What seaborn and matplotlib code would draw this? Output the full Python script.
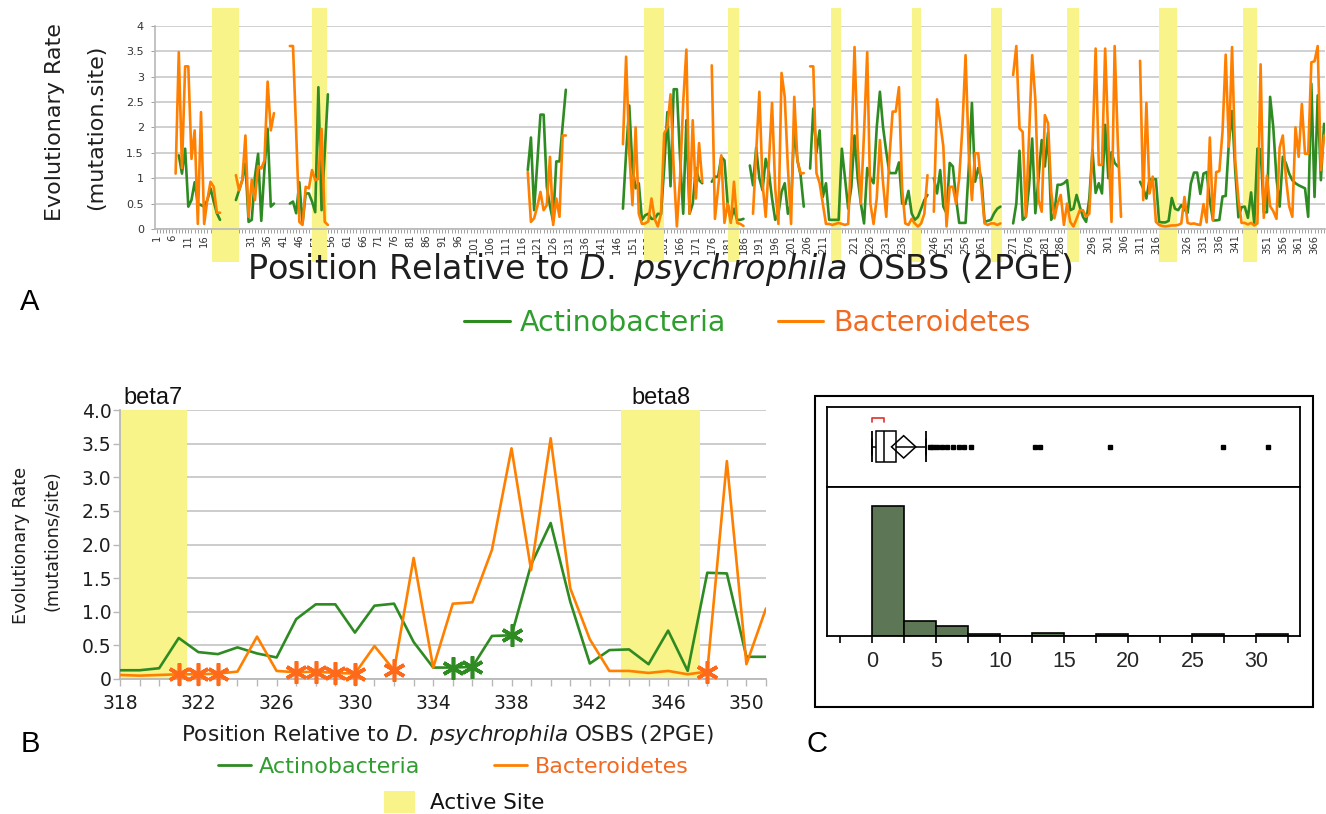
import numpy as np
import pandas as pd
import matplotlib
matplotlib.use("Agg")
import matplotlib.pyplot as plt
import seaborn as sns
from matplotlib.lines import Line2D
from matplotlib.patches import Patch, Rectangle, Polygon

# ------------------------------------------------------------------
# DATA
# ------------------------------------------------------------------
group_names = ["Actinobacteria", "Bacteroidetes"]

# Actinobacteria rates, runs of consecutive positions (start position, values)
act_008 = [1.45, 1.09, 1.58, 0.44, 0.57, 0.92, 0.5, 0.47, 0.44, 0.57, 0.8, 0.54, 0.31, 0.18]
act_026 = [0.57, 0.76, 0.96, 1.29, 0.14, 0.18, 1.03, 1.48, 0.16, 1.19, 1.97, 0.44, 0.5]
act_043 = [0.5, 0.54, 0.31, 0.92, 0.11, 0.7, 0.7, 0.54, 0.33, 2.79, 0.37, 1.5, 2.65]
act_118 = [1.16, 1.8, 0.37, 1.3, 2.25, 2.25, 0.83, 0.45, 0.15, 1.33, 1.33, 2.04, 2.74]
act_148 = [0.4, 1.5, 2.43, 1.2, 0.8, 0.9, 0.18, 0.27, 0.3, 0.2, 0.2, 0.3, 0.29, 1.2, 2.3,
           0.84, 2.75, 2.75, 1.4, 0.3, 2.14, 0.3, 0.5, 1.2, 0.96, 0.9]
act_176 = [0.93, 1.03, 1.03, 1.42, 1.35, 0.5, 0.18, 0.4, 0.18, 0.18, 0.2]
act_188 = [1.25, 0.86, 1.6, 1.0, 0.76, 1.38, 1.12, 0.6, 0.18, 0.3, 0.73, 0.9, 0.3, 0.5,
           2.0, 1.35, 1.06, 0.44]
act_207 = [1.19, 2.37, 1.5, 1.94, 0.63, 0.9, 0.18, 0.18, 0.18, 0.18, 1.58, 1.0, 0.4, 0.83,
           1.84, 1.0, 0.5, 0.11, 1.2, 1.0, 0.9, 2.0, 2.7, 2.0, 1.52, 1.1, 1.1, 1.1, 1.31,
           0.5, 0.49, 0.75, 0.31, 0.18, 0.24, 0.4, 0.57, 0.67]
act_246 = [1.0, 0.7, 1.16, 0.44, 0.31, 1.3, 1.23, 0.6, 0.12, 0.12, 0.12, 1.2, 2.48, 0.93,
           1.2, 1.0, 0.14, 0.16, 0.18, 0.31, 0.4, 0.44]
act_271 = [0.11, 0.5, 1.54, 0.18, 0.24, 0.83, 1.78, 0.31, 1.0, 1.75, 1.23, 1.9, 0.18, 0.31,
           0.87, 0.87, 0.9, 0.96, 0.37, 0.4, 0.67, 0.44, 0.24, 0.14, 0.6, 1.55, 0.71, 0.9,
           0.7, 2.05, 1.0, 1.51, 1.3, 1.23]
act_311 = [0.93, 0.8, 0.6, 0.98, 0.98, 0.98, 0.14]
act_318 = [0.13, 0.13, 0.16, 0.61, 0.40, 0.37, 0.47, 0.38, 0.32, 0.89, 1.11, 1.11, 0.69,
           1.09, 1.12, 0.55, 0.17, 0.17, 0.18, 0.64, 0.65, 1.70, 2.32, 1.15, 0.23, 0.43,
           0.44, 0.22, 0.72, 0.12, 1.58, 1.57, 0.33, 0.33]
act_352 = [2.6, 2.0, 1.0, 0.44, 1.42, 1.29, 1.09, 0.96, 0.9, 0.86, 0.83, 0.8, 0.24, 2.86,
           0.63, 2.63, 0.96, 2.07]

# Bacteroidetes rates
bac_007 = [1.09, 3.48, 1.2, 3.2, 3.2, 1.38, 1.94, 0.1, 2.3, 0.1, 0.57, 0.93, 0.83, 0.32, 0.32]
bac_026 = [1.06, 0.76, 0.96, 1.84, 0.24, 0.97, 0.57, 1.24, 1.19, 1.35, 2.9, 1.94, 2.28]
bac_043 = [3.6, 3.6, 1.9, 0.14, 0.08, 0.83, 0.8, 1.16, 0.96, 0.99, 1.97, 0.14, 0.08]
bac_118 = [1.12, 0.14, 0.21, 0.44, 0.73, 0.37, 0.47, 1.42, 0.08, 0.6, 0.24, 1.84, 1.84]
bac_148 = [1.67, 3.39, 1.5, 0.47, 2.0, 0.3, 0.1, 0.11, 0.15, 0.6, 0.2, 0.05, 0.3, 1.88, 2.0,
           2.65, 1.2, 0.05, 1.0, 2.5, 3.53, 0.3, 2.14, 0.6, 1.69, 0.93]
bac_176 = [3.22, 0.2, 0.8, 1.45, 0.12, 0.5, 0.12, 0.93, 0.12, 0.1, 0.06]
bac_189 = [0.3, 1.5, 2.7, 0.9, 0.24, 1.3, 2.48, 0.8, 0.1, 3.07, 2.6, 1.2, 0.1, 2.6, 1.35,
           1.09, 1.1]
bac_207 = [3.2, 3.2, 1.1, 0.9, 0.5, 0.1, 0.1, 0.08, 0.1, 0.12, 0.1, 0.08, 0.1, 1.6, 3.58,
           1.6, 0.5, 1.9, 3.48, 0.5, 0.1, 0.6, 1.75, 0.9, 0.24, 1.4, 2.31, 2.31, 2.79, 0.8,
           0.11, 0.08, 0.2, 0.11, 0.05, 0.11, 0.3, 1.06]
bac_246 = [0.34, 2.55, 2.1, 1.62, 0.05, 0.83, 0.83, 0.5, 1.0, 2.0, 3.42, 1.49, 0.57, 1.49,
           1.49, 0.8, 0.11, 0.08, 0.11, 0.11, 0.08, 0.11]
bac_271 = [3.03, 3.6, 1.98, 1.91, 0.24, 1.8, 3.42, 2.54, 0.57, 0.34, 2.24, 2.08, 0.73, 0.21,
           0.5, 0.67, 0.08, 0.5, 0.14, 0.05, 0.2, 0.37, 0.37, 0.24, 0.3, 1.55, 3.55, 1.26,
           1.26, 3.55, 1.75, 0.14, 3.6, 1.69, 0.24]
bac_311 = [3.31, 0.57, 2.48, 0.7, 1.03, 0.14, 0.08]
bac_318 = [0.06, 0.05, 0.06, 0.07, 0.07, 0.08, 0.11, 0.63, 0.12, 0.10, 0.11, 0.09, 0.08,
           0.49, 0.13, 1.80, 0.17, 1.12, 1.14, 1.92, 3.43, 1.62, 3.58, 1.35, 0.59, 0.12,
           0.12, 0.09, 0.12, 0.07, 0.11, 3.24, 0.22, 1.05]
bac_352 = [0.45, 0.35, 0.2, 1.6, 1.84, 1.0, 0.45, 0.24, 2.0, 1.42, 2.46, 1.48, 1.48, 3.28,
           3.3, 3.6, 1.16, 1.84]

act_runs = [(8, act_008), (26, act_026), (43, act_043), (118, act_118), (148, act_148),
            (176, act_176), (188, act_188), (207, act_207), (246, act_246),
            (271, act_271), (311, act_311), (318, act_318), (352, act_352)]
bac_runs = [(7, bac_007), (26, bac_026), (43, bac_043), (118, bac_118), (148, bac_148),
            (176, bac_176), (189, bac_189), (207, bac_207), (246, bac_246),
            (271, bac_271), (311, bac_311), (318, bac_318), (352, bac_352)]

# active-site spans (position ranges)
active_A = [(18.4, 26.9), (49.9, 54.6), (154.6, 161.0), (181.0, 184.6), (213.6, 216.8),
            (239.2, 242.0), (264.0, 267.6), (288.0, 291.9), (317.0, 322.5), (343.6, 348.0)]
active_B = [(317.0, 321.4), (343.6, 347.65)]
active_B_names = ["beta7", "beta8"]

# asterisk-marked sites in panel B
star_bac = [321, 322, 323, 327, 328, 329, 330, 332, 348]
star_act = [335, 336, 338]

# ticks / labels
A_yticks = [0, 0.5, 1, 1.5, 2, 2.5, 3, 3.5, 4]
A_yticklabels = ["0", "0.5", "1", "1.5", "2", "2.5", "3", "3.5", "4"]
B_yticks = [0, 0.5, 1.0, 1.5, 2.0, 2.5, 3.0, 3.5, 4.0]
B_yticklabels = ["0", "0.5", "1.0", "1.5", "2.0", "2.5", "3.0", "3.5", "4.0"]

# panel C: distribution of values (histogram + outlier box plot)
ratio_values = [
    0.0, 0.02, 0.04, 0.05, 0.06, 0.08, 0.1, 0.11, 0.12, 0.13, 0.15, 0.16, 0.18, 0.2, 0.21,
    0.22, 0.24, 0.25, 0.27, 0.28, 0.3, 0.31, 0.32, 0.33, 0.34,
    0.37, 0.4, 0.42, 0.45, 0.48, 0.5, 0.53, 0.56, 0.6, 0.63, 0.66, 0.7, 0.72, 0.75, 0.78,
    0.8, 0.83, 0.86, 0.88, 0.9, 0.92, 0.94, 0.95, 0.96, 0.97,
    1.0, 1.04, 1.08, 1.12, 1.16, 1.2, 1.24, 1.28, 1.32, 1.36, 1.4, 1.44, 1.48, 1.52, 1.56,
    1.6, 1.64, 1.68, 1.72, 1.76, 1.8, 1.84, 1.87, 1.9, 1.92,
    2.05, 2.2, 2.4,
    2.6, 2.8, 3.0, 3.3, 3.6, 3.9, 4.2, 4.5, 4.8,
    5.1, 5.5, 5.9, 6.3, 6.8, 7.2,
    7.7, 12.7, 13.1, 18.6, 27.4, 30.9]
C_major = [0, 5, 10, 15, 20, 25, 30]
C_minor = [-2.5, 2.5, 7.5, 12.5, 17.5, 22.5, 27.5, 32.5]
C_bin_edges = [0, 2.5, 5, 7.5, 10, 12.5, 15, 17.5, 20, 22.5, 25, 27.5, 30, 32.5]

# ------------------------------------------------------------------
GREEN = "#2e8b22"
ORANGE = "#ff8000"
GREEN_TXT = "#2f9e2f"
ORANGE_TXT = "#f26a22"
YELLOW = "#f8f48a"
GRID = "#c8c8c8"
SPINE = "#b8b8b8"
HISTC = "#5c7656"
TXT = "#1e1e1e"

sns.set_theme(style="white")
plt.rcParams['font.family'] = ['DejaVu Sans']
plt.rcParams['mathtext.fontset'] = 'dejavusans'


def runs_frame(runs, name):
    rows = []
    for start, vals in runs:
        for i, v in enumerate(vals):
            rows.append((start + i, v))
    df = pd.DataFrame(rows, columns=["pos", "rate"]).sort_values("pos").reset_index(drop=True)
    df["segment"] = (df["pos"].diff() != 1).cumsum()
    df["group"] = name
    return df


dfA = pd.concat([runs_frame(act_runs, group_names[0]),
                 runs_frame(bac_runs, group_names[1])], ignore_index=True)
palette = {group_names[0]: GREEN, group_names[1]: ORANGE}

W, H = 1326, 814
fig = plt.figure(figsize=(W / 100, H / 100), dpi=100)

# ------------------------------ Panel A ---------------------------
axA = fig.add_axes([155 / W, 1 - 229 / H, 1170 / W, 203.3 / H])
for a, b in active_A:
    axA.axvspan(a, b, ymin=-0.162, ymax=1.087, color=YELLOW, lw=0, zorder=1, clip_on=False)
sns.lineplot(data=dfA, x="pos", y="rate", hue="group", units="segment", estimator=None,
             palette=palette, linewidth=1.9, legend=False, ax=axA, zorder=3)
axA.set_xlim(0.5, 369.3)
axA.set_ylim(0, 4)
axA.set_xlabel("")
axA.set_ylabel("")
axA.set_yticks(A_yticks)
axA.set_yticklabels(A_yticklabels)
axA.set_xticks(np.arange(1, 370, 5))
axA.set_xticklabels([str(v) for v in np.arange(1, 370, 5)])
axA.set_xticks(np.arange(1, 370, 1), minor=True)
axA.yaxis.grid(True, color=GRID, lw=1.2)
axA.set_axisbelow(True)
for s in ["top", "right"]:
    axA.spines[s].set_visible(False)
for s in ["left", "bottom"]:
    axA.spines[s].set_color(SPINE)
    axA.spines[s].set_linewidth(1.2)
axA.tick_params(axis="x", which="both", bottom=True, length=3, width=0.7, color="#a0a0a0",
                labelsize=7.2, labelcolor="#333333", pad=1, labelrotation=90)
axA.tick_params(axis="y", left=True, length=3, width=0.7, color="#a0a0a0",
                labelsize=8, labelcolor="#333333", pad=5)

fig.text(55.5 / W, 1 - 122 / H, "Evolutionary Rate", rotation=90, ha="center", va="center",
         fontsize=16, color=TXT)
fig.text(96 / W, 1 - 127 / H, "(mutation.site)", rotation=90, ha="center", va="center",
         fontsize=16, color=TXT)
fig.text(660 / W, 1 - 270 / H,
         r"Position Relative to $\mathit{D.\ psychrophila}$ OSBS (2PGE)",
         ha="center", va="center", fontsize=24, color=TXT)

legA = fig.legend(handles=[Line2D([], [], color=GREEN, lw=2.2), Line2D([], [], color=ORANGE, lw=2.2)],
                  labels=group_names, loc="center", bbox_to_anchor=(747.5 / W, 1 - 323 / H),
                  ncol=2, frameon=False, fontsize=20.5, handlelength=1.6, handletextpad=0.35,
                  columnspacing=1.8, borderaxespad=0, borderpad=0)
for t, c in zip(legA.get_texts(), [GREEN_TXT, ORANGE_TXT]):
    t.set_color(c)

# ------------------------------ Panel B ---------------------------
dfB = dfA[(dfA["pos"] >= 318) & (dfA["pos"] <= 351)]
axB = fig.add_axes([120 / W, 1 - 679 / H, 646 / W, 269 / H])
for a, b in active_B:
    axB.axvspan(a, b, color=YELLOW, lw=0, zorder=1)
sns.lineplot(data=dfB, x="pos", y="rate", hue="group", estimator=None, palette=palette,
             linewidth=1.9, legend=False, ax=axB, zorder=3)
for name, sites, col in [(group_names[1], star_bac, "#ff6a1a"), (group_names[0], star_act, GREEN)]:
    sub = dfB[(dfB["group"] == name) & (dfB["pos"].isin(sites))]
    axB.plot(sub["pos"], sub["rate"], linestyle="none", marker=(6, 2, 0), ms=16, mew=2.6,
             color=col, zorder=4, clip_on=False)
axB.set_xlim(318, 351)
axB.set_ylim(0, 4)
axB.set_xlabel("")
axB.set_ylabel("")
axB.set_yticks(B_yticks)
axB.set_yticklabels(B_yticklabels)
axB.set_xticks(np.arange(318, 351, 4))
axB.set_xticks(np.arange(318, 352, 1), minor=True)
axB.yaxis.grid(True, color=GRID, lw=1.3)
axB.set_axisbelow(True)
for s in ["top", "right"]:
    axB.spines[s].set_visible(False)
for s in ["left", "bottom"]:
    axB.spines[s].set_color(SPINE)
    axB.spines[s].set_linewidth(1.3)
axB.tick_params(axis="x", which="both", bottom=True, length=5, width=1.0, color=SPINE,
                labelsize=13.5, labelcolor=TXT, pad=6)
axB.tick_params(axis="y", left=True, length=5, width=1.0, color=SPINE,
                labelsize=13.5, labelcolor=TXT, pad=1)
for (a, b), name in zip(active_B, active_B_names):
    cx = (max(a, 318) + b) / 2
    axB.annotate(name, xy=(cx, 4.0), xytext=(0, 4), textcoords="offset points",
                 ha="center", va="baseline", fontsize=17, family="Liberation Sans",
                 color="#111111", annotation_clip=False)

fig.text(21.5 / W, 1 - 545 / H, "Evolutionary Rate", rotation=90, ha="center", va="center",
         fontsize=12.7, color=TXT)
fig.text(53 / W, 1 - 541 / H, "(mutations/site)", rotation=90, ha="center", va="center",
         fontsize=12.7, color=TXT)
fig.text(447.5 / W, 1 - 735 / H,
         r"Position Relative to $\mathit{D.\ psychrophila}$ OSBS (2PGE)",
         ha="center", va="center", fontsize=15.5, color=TXT)

legB = fig.legend(handles=[Line2D([], [], color=GREEN, lw=2), Line2D([], [], color=ORANGE, lw=2)],
                  labels=group_names, loc="center", bbox_to_anchor=(453.5 / W, 1 - 767 / H),
                  ncol=2, frameon=False, fontsize=16, handlelength=1.5, handletextpad=0.35,
                  columnspacing=3.3, borderaxespad=0, borderpad=0)
for t, c in zip(legB.get_texts(), [GREEN_TXT, ORANGE_TXT]):
    t.set_color(c)
legS = fig.legend(handles=[Patch(facecolor=YELLOW, edgecolor="none")], labels=["Active Site"],
                  loc="center", bbox_to_anchor=(464.5 / W, 1 - 802 / H), frameon=False,
                  fontsize=15.5, handlelength=1.45, handleheight=1.2, handletextpad=0.7,
                  borderaxespad=0, borderpad=0)
for t in legS.get_texts():
    t.set_color("#111111")

# ------------------------------ Panel C ---------------------------
fig.patches.append(Rectangle((815 / W, 1 - 707 / H), 498 / W, 311 / H, transform=fig.transFigure,
                             fill=False, ec="black", lw=1.5))
axBox = fig.add_axes([827 / W, 1 - 486.7 / H, 473 / W, 79.7 / H])
axHist = fig.add_axes([827 / W, 1 - 636 / H, 473 / W, 149.3 / H])

sns.histplot(x=ratio_values, bins=C_bin_edges, color=HISTC, edgecolor="black", linewidth=1.2,
             alpha=1, ax=axHist)
axHist.set_xlim(-3.5, 33.4)
axHist.set_ylim(0, 89.4)
axHist.set_ylabel("")
axHist.set_xlabel("")
axHist.set_yticks([])
axHist.set_xticks(C_major)
axHist.set_xticklabels([str(v) for v in C_major])
axHist.set_xticks(C_minor, minor=True)
axHist.tick_params(axis="x", which="both", bottom=True, direction="out", length=5, width=1.2,
                   color="black", labelsize=15.5, pad=6)
for t in axHist.get_xticklabels():
    t.set_family("Liberation Sans")

vals = np.array(ratio_values)
sns.boxplot(x=vals, ax=axBox, width=0.39, color="white", linecolor="black", linewidth=1.1,
            fliersize=2.5, whis=1.5,
            flierprops=dict(marker="s", markerfacecolor="black", markeredgecolor="black"))
q1, q3 = np.percentile(vals, [25, 75])
iqr = q3 - q1
w_lo = vals[vals >= q1 - 1.5 * iqr].min()
w_hi = vals[vals <= q3 + 1.5 * iqr].max()
axBox.vlines([w_lo, w_hi], -0.195, 0.195, color="black", lw=1.3)
mean = vals.mean()
ci = 1.96 * vals.std(ddof=1) / np.sqrt(len(vals))
axBox.add_patch(Polygon([(mean - ci, 0), (mean, -0.14), (mean + ci, 0), (mean, 0.14)],
                        closed=True, fill=False, ec="black", lw=1.1, zorder=5))
sv = np.sort(vals)
k = len(sv) // 2
widths = sv[k:] - sv[:len(sv) - k]
i0 = int(np.argmin(widths))
lo, hi = sv[i0], sv[i0 + k]
axBox.plot([lo, lo, hi, hi], [-0.31, -0.366, -0.366, -0.31], color="#e03030", lw=1.2)
axBox.set_xlim(-3.5, 33.4)
axBox.set_ylim(0.5, -0.5)
axBox.set_xticks([])
axBox.set_yticks([])
axBox.set_xlabel("")
axBox.set_ylabel("")
for ax in (axBox, axHist):
    for s in ax.spines.values():
        s.set_visible(True)
        s.set_color("black")
        s.set_linewidth(1.3)

# panel letters
for letter, (x, y) in zip("ABC", [(20, 310), (21, 752), (807, 752)]):
    fig.text(x / W, 1 - y / H, letter, ha="left", va="baseline", fontsize=21,
             family="Liberation Sans", color="black")

fig.savefig("out.png", dpi=100)
